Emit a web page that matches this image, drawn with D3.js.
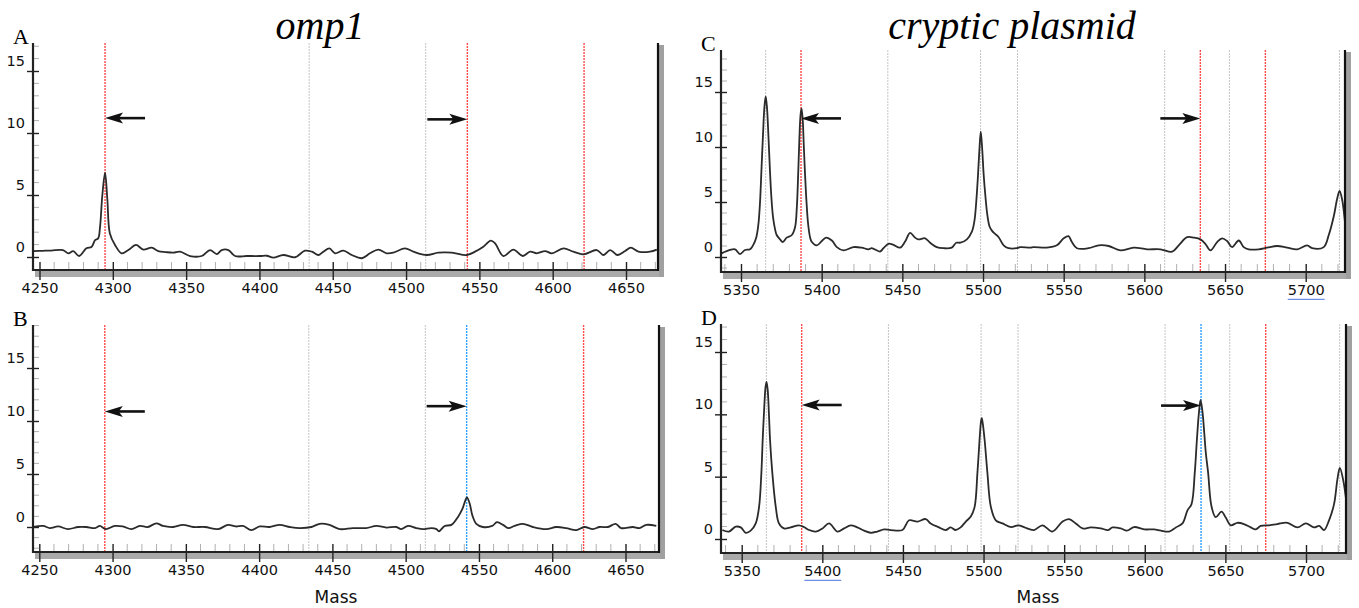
<!DOCTYPE html>
<html>
<head>
<meta charset="utf-8">
<script src="https://cdn.jsdelivr.net/npm/d3@7"></script>
<style>
  body { margin: 0; background: #fff; }
  svg { display: block; }
</style>
</head>
<body>
<svg id="chart" width="1359" height="608"></svg>
<script>
// Spectra: [mass, intensity]
const spectrumA = [[4245.8,0.48],[4252,0.5],[4258,0.52],[4266,0.56],[4269.7,0.3],[4273,0.48],[4277,0.08],[4282,0.7],[4285.6,0.83],[4287.9,1.37],[4290,1.5],[4291.3,2.45],[4292.8,4.9],[4294.7,6.8],[4296.3,4.6],[4298,1.9],[4301.5,0.97],[4306,0.3],[4310.6,0.56],[4315.8,0.97],[4320.8,0.6],[4326.5,0.75],[4331,0.48],[4336,0.4],[4341.3,0.35],[4345.8,0.43],[4352.7,0.08],[4360.6,0.08],[4366.3,0.56],[4370.9,0.24],[4374.3,0.56],[4378.8,0.56],[4383.4,0.08],[4391.3,0.08],[4400.4,0.08],[4405,0.1],[4409.5,-0.05],[4416.3,0.16],[4424.3,-0.02],[4431.1,0.51],[4435.7,0.43],[4440.2,0.16],[4443.6,0.43],[4447.7,0.7],[4451.6,0.3],[4457.2,0.51],[4463,0.16],[4469.8,-0.1],[4475.4,0.3],[4481.1,0.6],[4486.8,0.3],[4491.3,0.35],[4499.3,0.7],[4505,0.43],[4514.1,0.16],[4522,0.35],[4531.2,0.35],[4541.4,0.16],[4547,0.43],[4552.7,0.83],[4557.8,1.32],[4560.7,1.1],[4566.4,0.08],[4573.2,0.6],[4579.6,0.08],[4584.6,0.43],[4589.1,0.3],[4594.8,0.48],[4599.4,0.3],[4607.3,0.7],[4614.1,0.43],[4621,0.21],[4630.1,0.56],[4634.6,0.16],[4639.2,0.56],[4644.1,0.16],[4649.4,0.48],[4653.3,0.75],[4658.5,0.43],[4666.4,0.43],[4671,0.6]];

const spectrumB = [[4245.8,0],[4252.6,0.1],[4257.2,-0.1],[4262.8,0.05],[4269.6,-0.2],[4276.5,0],[4282,0],[4288,-0.1],[4291.3,0.1],[4295.4,-0.2],[4301.5,0.1],[4307,0.05],[4312.9,-0.2],[4318.6,0.1],[4324,0],[4329.9,0.35],[4334.4,0.1],[4341.3,0],[4348,0.2],[4355,0],[4363,0],[4372,-0.2],[4378.8,0.2],[4384,0.05],[4389,0.1],[4394.7,-0.3],[4400.4,0.05],[4407,0],[4414,0.2],[4421,0],[4427.7,-0.1],[4435.7,0],[4441.4,0.3],[4448,0.2],[4455,-0.2],[4464,-0.1],[4473,-0.1],[4480,0.1],[4486.8,-0.05],[4493.6,0],[4497,-0.2],[4501.6,0.1],[4507.3,-0.1],[4511.8,-0.2],[4517.5,-0.1],[4521,-0.2],[4522.7,-0.4],[4526.6,0.1],[4531.2,0.2],[4535.7,0.95],[4538.7,1.7],[4540.2,2.3],[4541.8,2.8],[4543.7,2.2],[4545.5,1.1],[4548.2,0.3],[4552.7,0],[4559,0.1],[4562.3,0.45],[4566.4,0.2],[4570,-0.1],[4574.3,0.1],[4580,0.3],[4586.8,0],[4595.9,-0.2],[4602.7,0],[4609.5,-0.1],[4616.4,-0.3],[4622,0],[4627.8,-0.2],[4632.3,0],[4638,0],[4643.3,0.3],[4647,-0.1],[4655,0],[4659.5,-0.1],[4664.2,0.2],[4671,0.1]];

const spectrumC = [[5338,0.33],[5343.2,0.64],[5346.3,0.7],[5349.4,0.27],[5352.5,0.64],[5355.6,0.7],[5357.6,1.1],[5359.5,1.8],[5360.8,3.0],[5361.8,5.0],[5362.7,8.0],[5363.6,11.0],[5364.5,13.6],[5365.3,14.6],[5366.1,13.6],[5367.0,11.0],[5367.9,8.0],[5368.8,5.5],[5369.8,3.7],[5371,2.6],[5372.1,2.0],[5374.2,1.6],[5375.9,1.36],[5378.3,1.76],[5381.5,2.0],[5383.5,2.7],[5384.6,4.5],[5385.5,7.8],[5386.2,10.8],[5386.9,12.9],[5387.5,13.5],[5388.2,12.6],[5388.9,10.2],[5389.7,7.5],[5390.6,5.0],[5391.6,3.0],[5392.8,1.8],[5393.9,1.36],[5397,1.06],[5400.1,1.45],[5402.7,1.76],[5406.3,1.5],[5409.4,0.9],[5413.5,0.6],[5419.7,0.9],[5424.8,0.85],[5429,0.7],[5431,0.8],[5436.2,0.5],[5438.3,0.8],[5441.4,1.2],[5444.5,1.1],[5448.6,0.85],[5451.7,1.4],[5454.8,2.2],[5457.9,1.76],[5460,1.6],[5464.1,1.7],[5467.2,1.3],[5471.3,0.9],[5475.5,0.8],[5480.6,0.85],[5483.4,1.3],[5486,1.3],[5490,1.6],[5493.1,2.3],[5494.7,3.3],[5495.8,5.0],[5496.8,7.2],[5497.7,9.6],[5498.6,11.4],[5499.5,9.8],[5500.4,7.5],[5501.5,5.5],[5502.7,3.8],[5504,2.8],[5505.5,2.4],[5507.5,2.1],[5509.7,1.8],[5512.8,1.06],[5515.8,0.8],[5521,0.8],[5523,0.9],[5529.3,0.85],[5531.3,0.9],[5539.6,0.85],[5545.8,1.06],[5550,1.7],[5553,1.9],[5555.1,1.36],[5558.2,0.8],[5565.4,0.8],[5571.7,1.06],[5577.9,1.0],[5585.1,0.6],[5593.4,0.85],[5601.7,0.7],[5610,0.7],[5617.2,0.48],[5621.3,1.06],[5626.5,1.8],[5630.6,1.76],[5634.8,1.6],[5637.8,1.2],[5641,0.6],[5645.1,1.36],[5648.2,1.7],[5651.3,1.45],[5654.4,0.9],[5658.5,1.5],[5661.6,0.9],[5664.7,0.7],[5670.9,0.7],[5676.1,0.85],[5682.3,1.0],[5688.5,0.85],[5694.7,0.7],[5700.9,1.06],[5704,0.8],[5711.2,0.9],[5714.3,2.0],[5717.4,3.7],[5719.5,5.3],[5721,6.0],[5722.6,5.2],[5724.7,2.6]];

const spectrumD = [[5338,0.72],[5342.1,0.6],[5346.3,0.99],[5349.4,0.93],[5352.5,0.5],[5355.6,0.67],[5358.7,1.25],[5360.8,2.6],[5362.2,5.3],[5363,7.9],[5364,10.6],[5364.8,12.2],[5365.4,12.6],[5366.1,12.0],[5366.9,10.0],[5367.6,7.9],[5369,5.3],[5371.1,2.6],[5373.1,1.25],[5376.2,0.85],[5380.4,0.93],[5385.5,1.1],[5388.6,0.96],[5391.8,0.72],[5396,0.6],[5400.1,0.85],[5404.2,1.25],[5409.4,0.6],[5413.5,0.85],[5417.6,1.1],[5421.7,0.93],[5425.9,0.67],[5430,0.5],[5434.1,0.6],[5438.3,0.77],[5442.4,0.72],[5449.7,0.72],[5453.8,1.5],[5459,1.4],[5464.1,1.6],[5467.2,1.25],[5472.4,0.93],[5476.5,0.72],[5479.6,0.93],[5482.7,0.72],[5485.8,0.93],[5489,1.4],[5492.1,1.8],[5494.5,2.6],[5496.2,5.3],[5497.5,7.9],[5498.4,9.4],[5498.9,9.7],[5499.6,9.2],[5500.7,7.9],[5502.4,5.3],[5504.5,2.6],[5507.6,1.5],[5511.8,1.25],[5517,0.96],[5521.6,1.1],[5525.4,0.93],[5531.3,0.72],[5536.5,1.1],[5542.7,0.6],[5549,1.4],[5553,1.6],[5557.2,1.25],[5561.4,0.85],[5566.5,0.93],[5572.7,0.85],[5577.3,0.72],[5580,0.93],[5585.1,0.85],[5588.9,0.67],[5593.4,0.96],[5599.6,0.77],[5605.8,0.77],[5610,0.67],[5615.1,0.6],[5619.3,0.93],[5623.4,1.25],[5626.5,2.3],[5629,2.8],[5631,5.3],[5632.3,7.9],[5633.5,10.0],[5634.6,11.15],[5635.8,10.2],[5636.9,8.5],[5637.8,7.0],[5639.3,5.3],[5641.4,2.6],[5644,1.75],[5647.6,2.2],[5650.3,1.7],[5653.3,1.1],[5657.4,1.3],[5661.5,1.2],[5665.7,0.93],[5668.8,0.77],[5671.9,1.05],[5677,1.1],[5682.2,1.2],[5688.5,1.3],[5694.7,0.93],[5699.9,1.25],[5705,0.93],[5708.2,1.05],[5711.2,0.72],[5714.3,1.5],[5717.4,2.8],[5719.5,4.8],[5721,5.7],[5723.1,4.7],[5725.4,2.6]];

// Marker masses (vertical dotted lines)
const omp1Gray = [4433.9, 4513.4];
const redA = [4294.7, 4541.8, 4621.4];
const redB = [4294.7, 4621.4];
const blueB = [4541.6];
const plasmidGray = [5365.3, 5441, 5498.5, 5521.4, 5612.6, 5652.7, 5720.9];
const redC = [5387.2, 5634.7, 5675];
const redD = [5387.2, 5675];
const blueD = [5634.9];

// Arrows: tip mass, intensity, pointing direction
const arrowsA = [{ mass: 4294.7, value: 11.2, dir: "left" }, { mass: 4541.8, value: 11.1, dir: "right" }];
const arrowsB = [{ mass: 4294.7, value: 10.9, dir: "left" }, { mass: 4541.6, value: 11.4, dir: "right" }];
const arrowsC = [{ mass: 5387.2, value: 12.6, dir: "left" }, { mass: 5634.7, value: 12.6, dir: "right" }];
const arrowsD = [{ mass: 5387.2, value: 10.75, dir: "left" }, { mass: 5634.9, value: 10.7, dir: "right" }];

const yMajor = [0, 5, 10, 15];
const omp1MassTicks = [4250, 4300, 4350, 4400, 4450, 4500, 4550, 4600, 4650];
const plasmidMassTicks = [5350, 5400, 5450, 5500, 5550, 5600, 5650, 5700];

const panels = [
  { letter: "A", data: spectrumA, gray: omp1Gray, red: redA, blue: [], arrows: arrowsA, ticks: omp1MassTicks,
    xCal: [4250, 4650], xPx: [39.5, 626], yPx: [257, 71], box: { l: 33, r: 658, t: 43, b: 270 }, underline: [] },
  { letter: "B", data: spectrumB, gray: omp1Gray, red: redB, blue: blueB, arrows: arrowsB, ticks: omp1MassTicks,
    xCal: [4250, 4650], xPx: [39.3, 625.5], yPx: [527, 368], box: { l: 33, r: 659, t: 325, b: 552 }, underline: [], mass: 336 },
  { letter: "C", data: spectrumC, gray: plasmidGray, red: redC, blue: [], arrows: arrowsC, ticks: plasmidMassTicks,
    xCal: [5350, 5700], xPx: [741, 1305.7], yPx: [257, 92], box: { l: 721, r: 1345, t: 50, b: 272 }, underline: [5700] },
  { letter: "D", data: spectrumD, gray: plasmidGray, red: redD, blue: blueD, arrows: arrowsD, ticks: plasmidMassTicks,
    xCal: [5350, 5700], xPx: [741.7, 1306], yPx: [539, 352], box: { l: 721, r: 1346, t: 324, b: 553 }, underline: [5400], mass: 1038 },
];

const svg = d3.select("#chart");
const tickFont = "'DejaVu Sans', Verdana, sans-serif";
const serif = "'Liberation Serif', 'Times New Roman', serif";

// Titles
svg.append("text").attr("x", 320).attr("y", 39).attr("text-anchor", "middle")
  .attr("font-family", serif).attr("font-style", "italic").attr("font-size", 40).text("omp1");
svg.append("text").attr("x", 1012).attr("y", 39).attr("text-anchor", "middle")
  .attr("font-family", serif).attr("font-style", "italic").attr("font-size", 40).text("cryptic plasmid");

panels.forEach((p, i) => {
  const b = p.box;
  const x = d3.scaleLinear().domain(p.xCal).range(p.xPx);
  const y = d3.scaleLinear().domain([0, 15]).range(p.yPx);
  const g = svg.append("g");

  // frame shadow
  g.append("rect").attr("x", b.l + 2).attr("y", b.b + 1).attr("width", b.r - b.l + 4).attr("height", 6).attr("fill", "#aaaaaa");
  g.append("rect").attr("x", b.r + 1).attr("y", b.t + 2).attr("width", 5).attr("height", b.b - b.t + 5).attr("fill", "#a0a0a0");

  // vertical marker lines
  const vline = (vals, color, w) => g.selectAll(null).data(vals).enter().append("line")
    .attr("x1", (d) => x(d)).attr("x2", (d) => x(d))
    .attr("y1", b.t).attr("y2", b.b)
    .attr("stroke", color).attr("stroke-width", w).attr("stroke-dasharray", "2,1");
  vline(p.gray, "#c4c4c4", 1);
  vline(p.red, "#ff4a4a", 1.4);
  vline(p.blue, "#2ea0ff", 1.4);

  // spectrum trace
  const clipId = `clip-${i}`;
  svg.append("clipPath").attr("id", clipId).append("rect")
    .attr("x", b.l).attr("y", b.t).attr("width", b.r - b.l).attr("height", b.b - b.t);
  g.append("path").datum(p.data)
    .attr("clip-path", `url(#${clipId})`)
    .attr("fill", "none").attr("stroke", "#2b2b2b").attr("stroke-width", 1.8)
    .attr("stroke-linejoin", "round")
    .attr("d", d3.line().x((d) => x(d[0])).y((d) => y(d[1])).curve(d3.curveCatmullRom.alpha(0.5)));

  // minor ticks
  const m0 = x.invert(b.l), m1 = x.invert(b.r);
  const xMinor = d3.range(Math.ceil(m0 / 10) * 10, m1, 10).filter((v) => v % 50 !== 0);
  g.selectAll(null).data(xMinor).enter().append("line")
    .attr("x1", (d) => x(d)).attr("x2", (d) => x(d))
    .attr("y1", b.b - 8).attr("y2", b.b).attr("stroke", "#b0b0b0").attr("stroke-width", 1);
  const v0 = y.invert(b.b), v1 = y.invert(b.t);
  const yMinor = d3.range(Math.ceil(v0), v1, 1).filter((v) => v % 5 !== 0 && y(v) < b.b - 3);
  g.selectAll(null).data(yMinor).enter().append("line")
    .attr("x1", b.l).attr("x2", b.l + 6)
    .attr("y1", (d) => y(d)).attr("y2", (d) => y(d)).attr("stroke", "#b0b0b0").attr("stroke-width", 1);

  // x axis
  const xAxis = g.append("g").attr("transform", `translate(0,${b.b})`)
    .call(d3.axisBottom(x).tickValues(p.ticks).tickSize(10).tickPadding(3).tickFormat(d3.format("d")));
  xAxis.select(".domain").remove();
  xAxis.selectAll(".tick line").attr("y1", -8).attr("y2", 10).attr("stroke", "#222").attr("stroke-width", 1.4);
  xAxis.selectAll(".tick text").attr("font-family", tickFont).attr("font-size", 14.5).attr("fill", "#111");

  // y axis
  const yAxis = g.append("g").attr("transform", `translate(${b.l},0)`)
    .call(d3.axisLeft(y).tickValues(yMajor).tickSize(6).tickPadding(2));
  yAxis.select(".domain").remove();
  yAxis.selectAll(".tick line").attr("x1", 6).attr("x2", -6).attr("stroke", "#222").attr("stroke-width", 1.4);
  yAxis.selectAll(".tick text").attr("font-family", tickFont).attr("font-size", 14.5).attr("fill", "#111").attr("dy", -5.5);

  // frame lines
  g.append("line").attr("x1", b.l).attr("x2", b.l).attr("y1", b.t).attr("y2", b.b + 1)
    .attr("stroke", "#222").attr("stroke-width", 2.2);
  g.append("line").attr("x1", b.l - 1).attr("x2", b.r + 1).attr("y1", b.b).attr("y2", b.b)
    .attr("stroke", "#222").attr("stroke-width", 2.2);
  g.append("line").attr("x1", b.r).attr("x2", b.r).attr("y1", b.t).attr("y2", b.b + 1)
    .attr("stroke", "#111").attr("stroke-width", 2.2);

  // spell-check style underlines under some tick labels
  xAxis.selectAll(".tick").filter((d) => p.underline.includes(d)).each(function () {
    const bb = this.querySelector("text").getBBox();
    d3.select(this).append("line")
      .attr("x1", bb.x).attr("x2", bb.x + bb.width)
      .attr("y1", bb.y + bb.height + 1).attr("y2", bb.y + bb.height + 1)
      .attr("stroke", "#6d8fe6").attr("stroke-width", 1.2);
  });

  // arrows
  const arrowLen = 40;
  p.arrows.forEach((a) => {
    const tx = x(a.mass), ty = y(a.value);
    const s = a.dir === "left" ? 1 : -1;
    g.append("line").attr("x1", tx + s * 10).attr("x2", tx + s * arrowLen)
      .attr("y1", ty).attr("y2", ty).attr("stroke", "#111").attr("stroke-width", 2.6);
    g.append("path")
      .attr("d", `M${tx},${ty} L${tx + s * 18},${ty - 5.5} L${tx + s * 14},${ty} L${tx + s * 18},${ty + 5.5} Z`)
      .attr("fill", "#111");
  });

  // panel letter
  svg.append("text").attr("x", b.l - 20).attr("y", b.t + 1)
    .attr("font-family", serif).attr("font-size", 22).text(p.letter);

  if (p.mass) {
    svg.append("text").attr("x", p.mass).attr("y", 603).attr("text-anchor", "middle")
      .attr("font-family", tickFont).attr("font-size", 17).attr("fill", "#111").text("Mass");
  }
});
</script>
</body>
</html>
